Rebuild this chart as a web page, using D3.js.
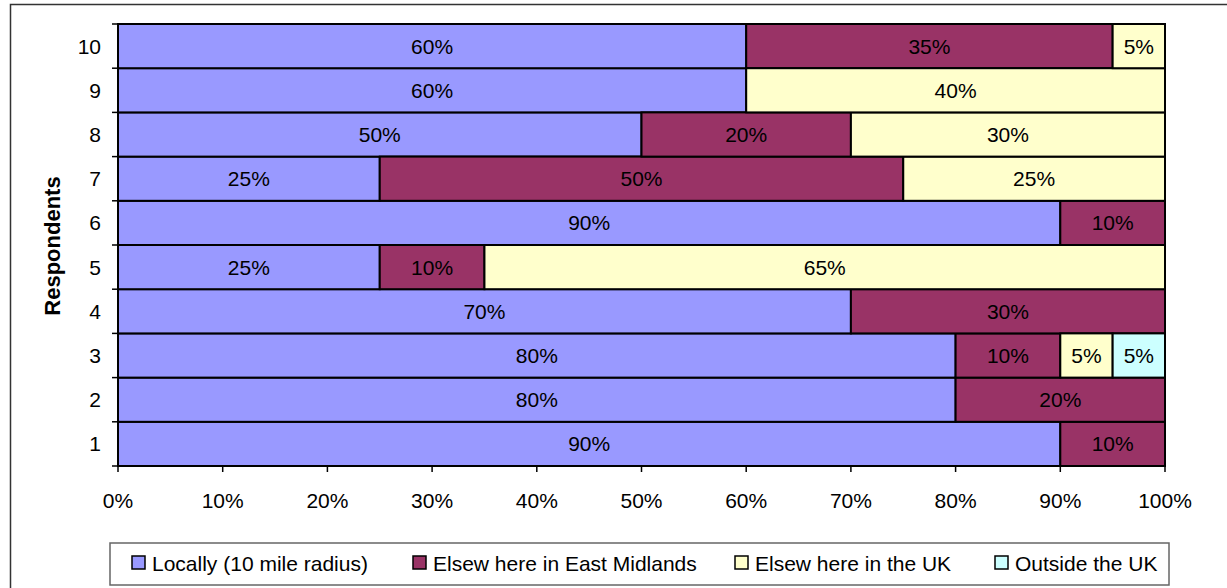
<!DOCTYPE html>
<html><head><meta charset="utf-8">
<script src="https://cdn.jsdelivr.net/npm/d3@7"></script>
<style>body{margin:0;background:#fff}svg{display:block}text{font-family:"Liberation Sans",Arial,sans-serif}</style>
</head><body>
<svg id="c" width="1227" height="588"></svg>
<script>
const respondents = ["1","2","3","4","5","6","7","8","9","10"];
const seriesNames = ["Locally (10 mile radius)", "Elsew here in East Midlands", "Elsew here in the UK", "Outside the UK"];
const locally    = [90, 80, 80, 70, 25, 90, 25, 50, 60, 60];
const eastMid    = [10, 20, 10, 30, 10, 10, 50, 20,  0, 35];
const elseUK     = [ 0,  0,  5,  0, 65,  0, 25, 30, 40,  5];
const outsideUK  = [ 0,  0,  5,  0,  0,  0,  0,  0,  0,  0];
const xTicks = [0,10,20,30,40,50,60,70,80,90,100];
const colors = ["#9999FF", "#993366", "#FFFFCC", "#CCFFFF"];
const FS = 21;

const svg = d3.select("#c");
svg.append("rect").attr("x",10.5).attr("y",4.5).attr("width",1240).attr("height",600)
  .attr("fill","#fff").attr("stroke","#333").attr("stroke-width",1.5);

const L=118, R=1165, T=24, B=466;
const x = d3.scaleLinear().domain([0,100]).range([L,R]);
const y = d3.scaleBand().domain(respondents.slice().reverse()).range([T,B]).padding(0);

const seriesVals = [locally, eastMid, elseUK, outsideUK];
const rows = respondents.map((r,i)=>{const o={r}; seriesVals.forEach((s,k)=>o["s"+k]=s[i]); return o;});
const stack = d3.stack().keys(["s0","s1","s2","s3"])(rows);

const g = svg.append("g");
stack.forEach((layer,k)=>{
  layer.forEach(d=>{
    const v = d[1]-d[0];
    if(v<=0) return;
    g.append("rect").attr("x",x(d[0])).attr("y",y(d.data.r)).attr("width",x(d[1])-x(d[0])).attr("height",y.bandwidth())
      .attr("fill",colors[k]).attr("stroke","#000").attr("stroke-width",2);
    g.append("text").attr("x",(x(d[0])+x(d[1]))/2).attr("y",y(d.data.r)+y.bandwidth()/2)
      .attr("text-anchor","middle").attr("dominant-baseline","central").attr("font-size",FS).attr("fill","#000")
      .text(v+"%");
  });
});

// axes
const ax = svg.append("g");
ax.append("line").attr("x1",L).attr("x2",L).attr("y1",T).attr("y2",B).attr("stroke","#000").attr("stroke-width",2);
ax.append("line").attr("x1",L).attr("x2",R).attr("y1",B).attr("y2",B).attr("stroke","#000").attr("stroke-width",2);
const bounds = respondents.map(r=>y(r)).concat([B]);
bounds.forEach(b=>ax.append("line").attr("x1",L-6).attr("x2",L).attr("y1",b).attr("y2",b).attr("stroke","#000").attr("stroke-width",1.5));
respondents.forEach(r=>ax.append("text").attr("x",101).attr("y",y(r)+y.bandwidth()/2).attr("text-anchor","end")
  .attr("dominant-baseline","central").attr("font-size",FS).text(r));
xTicks.forEach(t=>{
  ax.append("line").attr("x1",x(t)).attr("x2",x(t)).attr("y1",B).attr("y2",B+6).attr("stroke","#000").attr("stroke-width",1.5);
  ax.append("text").attr("x",x(t)).attr("y",500).attr("text-anchor","middle").attr("dominant-baseline","central")
    .attr("font-size",FS).text(t+"%");
});
svg.append("text").attr("transform","translate(52,246) rotate(-90)").attr("text-anchor","middle")
  .attr("dominant-baseline","central").attr("font-size",22).attr("font-weight","bold").text("Respondents");

// legend
const lg = svg.append("g");
lg.append("rect").attr("x",110).attr("y",543).attr("width",1059).attr("height",42).attr("fill","#fff").attr("stroke","#666").attr("stroke-width",1.5);
const lx = [132, 413, 735, 995];
seriesNames.forEach((n,k)=>{
  lg.append("rect").attr("x",lx[k]).attr("y",556).attr("width",13).attr("height",13).attr("fill",colors[k]).attr("stroke","#000").attr("stroke-width",1.5);
  lg.append("text").attr("x",lx[k]+20).attr("y",563).attr("dominant-baseline","central").attr("font-size",FS).text(n);
});
</script>
</body></html>
